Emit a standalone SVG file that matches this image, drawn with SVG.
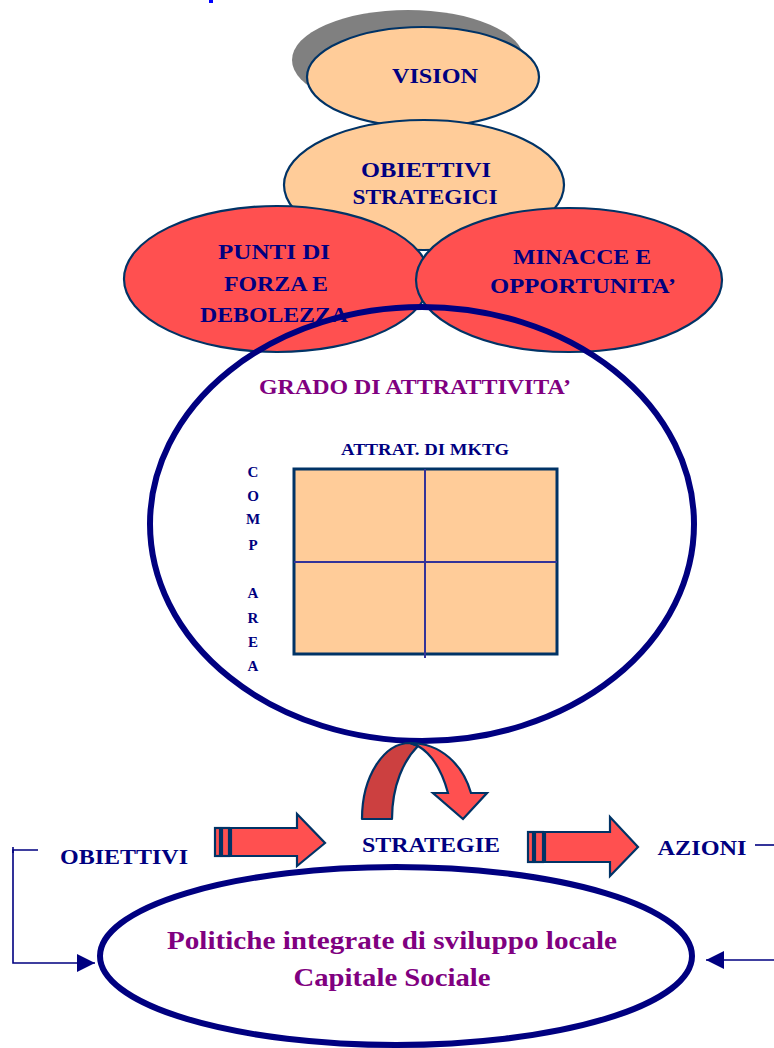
<svg xmlns="http://www.w3.org/2000/svg" width="774" height="1048" viewBox="0 0 774 1048">
  <style>
    .lbl { font-family: "Liberation Serif", "Times New Roman", serif; font-weight: bold; fill: #000080; text-anchor: middle; }
    .pur { font-family: "Liberation Serif", "Times New Roman", serif; font-weight: bold; fill: #800080; text-anchor: middle; }
    .peach { fill: #FFCC99; stroke: #003366; stroke-width: 2.2; }
    .red { fill: #FF5050; stroke: #003366; stroke-width: 2.2; }
    .ring { fill: none; stroke: #000080; stroke-width: 6; }
    .blk { fill: #FF5050; stroke: #003366; stroke-width: 2.2; stroke-linejoin: miter; }
    .thin { fill: none; stroke: #000080; stroke-width: 1.6; }
  </style>
  <defs>
    <marker id="triL" viewBox="0 0 18 18" refX="18" refY="9" markerWidth="18" markerHeight="18" markerUnits="userSpaceOnUse" orient="auto">
      <path d="M0,0 L18,9 L0,18 Z" fill="#000080"/>
    </marker>
  </defs>

  <rect width="774" height="1048" fill="#FFFFFF"/>
  <rect x="209" y="0" width="4" height="3" fill="#0000FF"/>

  <g id="vision">
    <ellipse cx="408" cy="60" rx="116" ry="50" fill="#808080"/>
    <ellipse class="peach" cx="423" cy="77" rx="116" ry="50"/>
    <text class="lbl" x="435" y="83" font-size="22" textLength="86" lengthAdjust="spacingAndGlyphs">VISION</text>
  </g>

  <g id="obiettivi-strategici">
    <ellipse class="peach" cx="424" cy="185" rx="140" ry="65"/>
    <text class="lbl" x="426" y="177" font-size="22" textLength="130" lengthAdjust="spacingAndGlyphs">OBIETTIVI</text>
    <text class="lbl" x="425" y="204" font-size="22" textLength="145" lengthAdjust="spacingAndGlyphs">STRATEGICI</text>
  </g>

  <g id="punti-forza">
    <ellipse class="red" cx="277" cy="279" rx="153" ry="73"/>
    <text class="lbl" x="274" y="259" font-size="22" textLength="112" lengthAdjust="spacingAndGlyphs">PUNTI DI</text>
    <text class="lbl" x="276" y="291" font-size="22" textLength="104" lengthAdjust="spacingAndGlyphs">FORZA E</text>
    <text class="lbl" x="274" y="322" font-size="22" textLength="148" lengthAdjust="spacingAndGlyphs">DEBOLEZZA</text>
  </g>

  <g id="minacce">
    <ellipse class="red" cx="569" cy="280" rx="153" ry="72"/>
    <text class="lbl" x="582" y="264" font-size="22" textLength="138" lengthAdjust="spacingAndGlyphs">MINACCE E</text>
    <text class="lbl" x="583" y="293" font-size="22" textLength="186" lengthAdjust="spacingAndGlyphs">OPPORTUNITA’</text>
  </g>

  <g id="grado-attrattivita">
    <ellipse class="ring" cx="422" cy="524" rx="272" ry="217"/>
    <text class="pur" x="415" y="394" font-size="22" textLength="312" lengthAdjust="spacingAndGlyphs">GRADO DI ATTRATTIVITA’</text>
    <text class="lbl" x="425" y="455" font-size="16" textLength="168" lengthAdjust="spacingAndGlyphs">ATTRAT. DI MKTG</text>
    <rect x="294" y="469" width="263" height="185" fill="#FFCC99" stroke="#003366" stroke-width="3"/>
    <line x1="425" y1="469" x2="425" y2="658" stroke="#333399" stroke-width="2"/>
    <line x1="294" y1="562" x2="557" y2="562" stroke="#333399" stroke-width="2"/>
    <g class="lbl" font-size="15">
      <text x="253" y="477">C</text>
      <text x="253" y="501">O</text>
      <text x="253" y="524">M</text>
      <text x="253" y="550">P</text>
      <text x="253" y="598">A</text>
      <text x="253" y="623">R</text>
      <text x="253" y="647">E</text>
      <text x="253" y="671">A</text>
    </g>
  </g>

  <g id="ciclo">
    <path d="M362,819 C362,776 384,743 410,743 L418,746 C404,760 392,785 392,819 Z" fill="#CC4040" stroke="#003366" stroke-width="2.2" stroke-linejoin="round"/>
    <path d="M410,743 C441,743 463,765 471,793 L487,793 L463,819 L433,793 L448,793 C442,771 432,754 418,746 Z" class="blk"/>
  </g>

  <g id="obiettivi">
    <text class="lbl" x="124" y="864" font-size="21" textLength="128" lengthAdjust="spacingAndGlyphs">OBIETTIVI</text>
  </g>
  <g id="strategie">
    <text class="lbl" x="431" y="852" font-size="21" textLength="138" lengthAdjust="spacingAndGlyphs">STRATEGIE</text>
  </g>
  <g id="azioni">
    <text class="lbl" x="702" y="855" font-size="21" textLength="89" lengthAdjust="spacingAndGlyphs">AZIONI</text>
  </g>

  <g id="politiche">
    <ellipse class="ring" cx="396" cy="956" rx="296" ry="89"/>
    <text class="pur" x="392" y="949" font-size="26" textLength="450" lengthAdjust="spacingAndGlyphs">Politiche integrate di sviluppo locale</text>
    <text class="pur" x="392" y="986" font-size="26" textLength="197" lengthAdjust="spacingAndGlyphs">Capitale Sociale</text>
  </g>

  <g id="connectors">
    <!-- block arrows with striped tails -->
    <rect x="215" y="828" width="5" height="28" class="blk"/>
    <rect x="222" y="828" width="7" height="28" class="blk"/>
    <path d="M231,828 L297,828 L297,814 L325,843 L297,866 L297,856 L231,856 Z" class="blk"/>
    <rect x="528" y="832" width="5" height="30" class="blk"/>
    <rect x="535" y="832" width="8" height="30" class="blk"/>
    <path d="M545,832 L610,832 L610,817 L638,847 L610,876 L610,862 L545,862 Z" class="blk"/>
    <!-- feedback lines -->
    <path d="M38,850 L13,850 L13,963 L95,963" class="thin" marker-end="url(#triL)"/>
    <line x1="13" y1="847" x2="13" y2="853" stroke="#000080" stroke-width="1.6"/>
    <path d="M774,960 L706,960" class="thin" marker-end="url(#triL)"/>
    <line x1="755" y1="845" x2="774" y2="845" stroke="#000080" stroke-width="1.6"/>
  </g>
</svg>
